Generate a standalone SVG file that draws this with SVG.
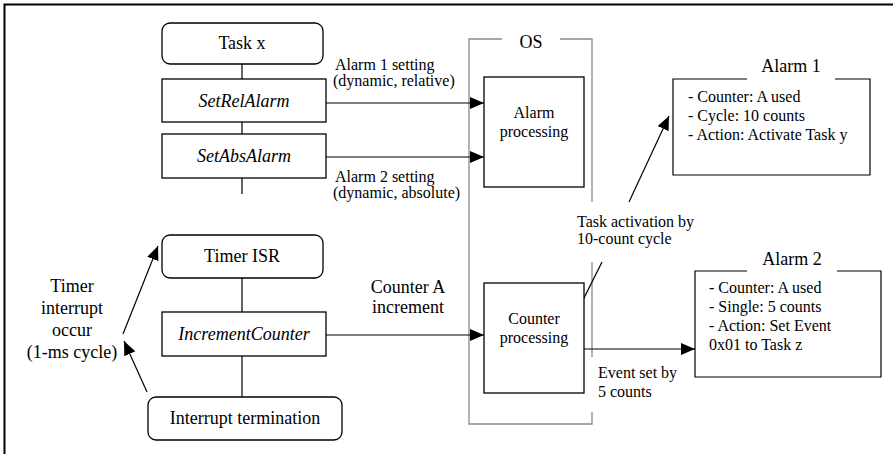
<svg xmlns="http://www.w3.org/2000/svg" width="893" height="454" viewBox="0 0 893 454">
<style>
text{font-family:"Liberation Serif","Times New Roman",serif;fill:#000}
.l{font-size:18px;text-anchor:middle}
.i{font-style:italic}
.s{font-size:16px}
.c{text-anchor:middle}
.box{fill:#fff;stroke:#000;stroke-width:1.3}
.ln{stroke:#000;stroke-width:1.2;fill:none}
.os{stroke:#8a8a8a;stroke-width:1.3;fill:none}
</style>
<defs>
<marker id="ah" markerUnits="userSpaceOnUse" markerWidth="14" markerHeight="12" refX="14" refY="6" orient="auto">
<path d="M0,0 L14,6 L0,12 z" fill="#000"/>
</marker>
</defs>
<rect width="893" height="454" fill="#fff"/>
<path d="M4.5,454 V4.5 H893" fill="none" stroke="#000" stroke-width="2"/>

<g id="os">
<path class="os" d="M502,39 H469 V424 H592 V412 M592,357 V262 M592,202 V39 H560"/>
<text class="l" x="531" y="48">OS</text>
</g>

<g id="connectors">
<line class="ln" x1="242" y1="64" x2="242" y2="79"/>
<line class="ln" x1="242" y1="122" x2="242" y2="134"/>
<line class="ln" x1="242" y1="178" x2="242" y2="194"/>
<line class="ln" x1="242" y1="278" x2="242" y2="312"/>
<line class="ln" x1="242" y1="356" x2="242" y2="397"/>
<line class="ln" x1="326" y1="103" x2="484" y2="103" marker-end="url(#ah)"/>
<line class="ln" x1="326" y1="157" x2="484" y2="157" marker-end="url(#ah)"/>
<line class="ln" x1="326" y1="335" x2="484" y2="335" marker-end="url(#ah)"/>
<line class="ln" x1="584" y1="349" x2="695" y2="349" marker-end="url(#ah)"/>
<line class="ln" x1="583" y1="300" x2="602" y2="262"/>
<line class="ln" x1="629" y1="202" x2="669" y2="116" marker-end="url(#ah)"/>
<line class="ln" x1="147" y1="392" x2="124" y2="341" marker-end="url(#ah)"/>
<line class="ln" x1="123" y1="334" x2="158" y2="246" marker-end="url(#ah)"/>
</g>

<g id="task-x">
<rect class="box" x="162" y="23" width="161" height="41" rx="8"/>
<text class="l" x="242" y="49">Task x</text>
</g>
<g id="setrelalarm">
<rect class="box" x="162" y="79" width="164" height="43"/>
<text class="l i" x="244" y="107">SetRelAlarm</text>
</g>
<g id="setabsalarm">
<rect class="box" x="162" y="134" width="164" height="44"/>
<text class="l i" x="244" y="162">SetAbsAlarm</text>
</g>
<g id="timer-isr">
<rect class="box" x="162" y="235" width="161" height="43" rx="8"/>
<text class="l" x="242" y="262">Timer ISR</text>
</g>
<g id="incrementcounter">
<rect class="box" x="162" y="312" width="164" height="44"/>
<text class="l i" x="244" y="340">IncrementCounter</text>
</g>
<g id="interrupt-termination">
<rect class="box" x="148" y="397" width="194" height="43" rx="8"/>
<text class="l" x="245" y="424">Interrupt termination</text>
</g>

<g id="alarm-processing">
<rect class="box" x="484" y="77" width="100" height="110"/>
<text class="s c" x="534" y="118">Alarm</text>
<text class="s c" x="534" y="137">processing</text>
</g>
<g id="counter-processing">
<rect class="box" x="484" y="283" width="100" height="110"/>
<text class="s c" x="534" y="324">Counter</text>
<text class="s c" x="534" y="343">processing</text>
</g>

<g id="alarm1">
<path class="ln" d="M747,79 H673 V175 H870 V79 H835" stroke-width="1.3"/>
<text class="l" x="791" y="72">Alarm 1</text>
<text class="s" x="688" y="102">- Counter: A used</text>
<text class="s" x="688" y="121">- Cycle: 10 counts</text>
<text class="s" x="688" y="140">- Action: Activate Task y</text>
</g>
<g id="alarm2">
<path class="ln" d="M747,271 H695 V377 H881 V271 H837" stroke-width="1.3"/>
<text class="l" x="792" y="265">Alarm 2</text>
<text class="s" x="709" y="293">- Counter: A used</text>
<text class="s" x="709" y="312">- Single: 5 counts</text>
<text class="s" x="709" y="331">- Action: Set Event</text>
<text class="s" x="709" y="350">0x01 to Task z</text>
</g>

<g id="labels">
<text class="s" x="335" y="70">Alarm 1 setting</text>
<text class="s" x="333" y="86">(dynamic, relative)</text>
<text class="s" x="335" y="182">Alarm 2 setting</text>
<text class="s" x="333" y="198">(dynamic, absolute)</text>
<text class="s" x="577" y="227">Task activation by</text>
<text class="s" x="577" y="244">10-count cycle</text>
<text class="s" x="598" y="378">Event set by</text>
<text class="s" x="598" y="397">5 counts</text>
<text class="l" x="408" y="293">Counter A</text>
<text class="l" x="408" y="313">increment</text>
<text class="l" x="72" y="292">Timer</text>
<text class="l" x="72" y="314">interrupt</text>
<text class="l" x="72" y="336">occur</text>
<text class="l" x="72" y="358">(1-ms cycle)</text>
</g>
</svg>
